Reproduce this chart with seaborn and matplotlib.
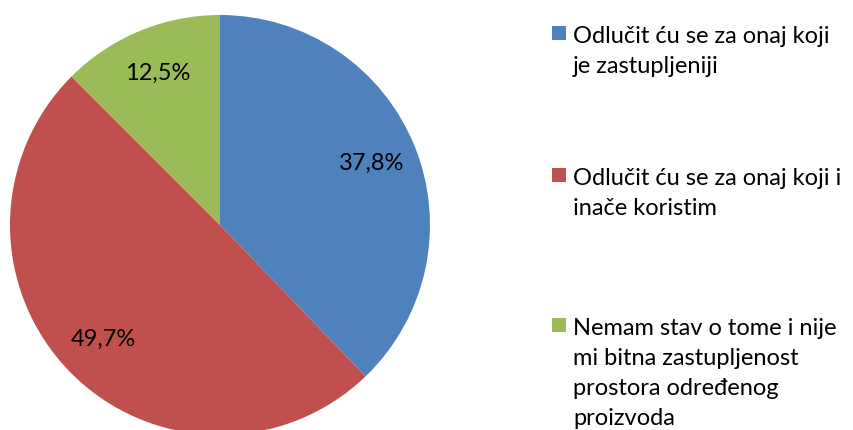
import matplotlib
matplotlib.use("Agg")
import matplotlib.pyplot as plt
from matplotlib.patches import Rectangle
import seaborn as sns

# answer shares (%), clockwise from 12 o'clock
answers = [
    "Odlučit ću se za onaj koji\nje zastupljeniji",
    "Odlučit ću se za onaj koji i\ninače koristim",
    "Nemam stav o tome i nije\nmi bitna zastupljenost\nprostora određenog\nproizvoda",
]
shares = [37.8, 49.7, 12.5]
colors = ["#4F81BD", "#C0504D", "#9BBB59"]

sns.set_theme(style="white")
plt.rcParams["font.family"] = ["Lato", "DejaVu Sans"]

W, H = 854, 430
fig = plt.figure(figsize=(W / 100, H / 100), dpi=100)

# pie axes: centre (220, 225) px, radius 210 px
cx, cy, r = 220, 225, 210
ax = fig.add_axes([(cx - r) / W, (H - cy - r) / H, 2 * r / W, 2 * r / H])
wedges, _, autotexts = ax.pie(
    shares,
    colors=colors,
    startangle=90,
    counterclock=False,
    autopct=lambda p: f"{p:.1f}%".replace(".", ","),
    pctdistance=0.78,
    wedgeprops=dict(linewidth=0),
    textprops=dict(fontsize=17, color="black"),
)
ax.set_xlim(-1, 1)
ax.set_ylim(-1, 1)
ax.set_aspect("equal")
ax.axis("off")

# legend drawn by hand: square marker + wrapped label lines
item_top = [43, 185, 335]   # baseline of first line, px from top
line_gap = 30
for color, label, base in zip(colors, answers, item_top):
    fig.add_artist(Rectangle((552 / W, 1 - (base - 3) / H), 14 / W, 14 / H,
                             transform=fig.transFigure, color=color, lw=0))
    for i, line in enumerate(label.split("\n")):
        fig.text(573 / W, 1 - (base + i * line_gap) / H, line,
                 fontsize=17, va="baseline", ha="left", color="black")

fig.savefig("out.png", dpi=100)
